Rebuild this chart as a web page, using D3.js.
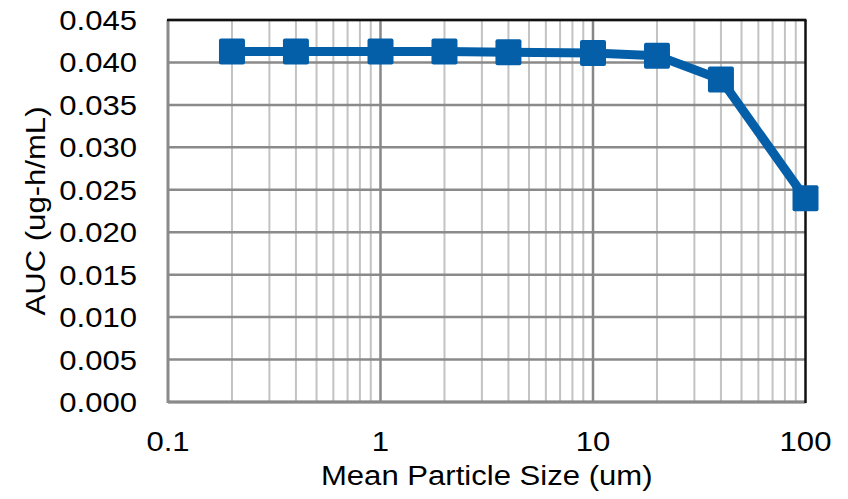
<!DOCTYPE html>
<html><head><meta charset="utf-8">
<script src="https://cdn.jsdelivr.net/npm/d3@7"></script>
<style>body{margin:0;background:#fff}svg text{font-family:"Liberation Sans",Arial,sans-serif;fill:#000}</style>
</head><body>
<svg id="c" width="848" height="499"></svg>
<script>
const sizes = [0.2, 0.4, 1, 2, 4, 10, 20, 40, 100];
const auc = [0.0413, 0.0413, 0.0413, 0.0413, 0.0412, 0.0411, 0.0408, 0.0380, 0.0240];
const yTicks = [0, 0.005, 0.010, 0.015, 0.020, 0.025, 0.030, 0.035, 0.040, 0.045];
const xMajor = [0.1, 1, 10, 100];
const xMinor = [0.2,0.3,0.4,0.5,0.6,0.7,0.8,0.9,2,3,4,5,6,7,8,9,20,30,40,50,60,70,80,90];
const xLabel = "Mean Particle Size (um)";
const yLabel = "AUC (ug-h/mL)";

const svg = d3.select("#c");
const L=168, R=805.5, T=20, B=402;
const x = d3.scaleLog().domain([0.1,100]).range([L,R]);
const y = d3.scaleLinear().domain([0,0.045]).range([B,T]);
const FS = 28, SX = 1.11;

// minor vertical grid
svg.append("g").selectAll("line").data(xMinor).join("line")
  .attr("x1",d=>x(d)).attr("x2",d=>x(d)).attr("y1",T).attr("y2",B)
  .attr("stroke","#c3c3c3").attr("stroke-width",2);
// horizontal grid
svg.append("g").selectAll("line").data(yTicks).join("line")
  .attr("x1",L).attr("x2",R).attr("y1",d=>y(d)).attr("y2",d=>y(d))
  .attr("stroke","#8a8a8a").attr("stroke-width",2.5);
// major vertical grid
svg.append("g").selectAll("line").data(xMajor.slice(1,3)).join("line")
  .attr("x1",d=>x(d)).attr("x2",d=>x(d)).attr("y1",T).attr("y2",B)
  .attr("stroke","#878787").attr("stroke-width",2.5);
// axes lines (left/bottom gray)
svg.append("line").attr("x1",L).attr("x2",L).attr("y1",T).attr("y2",B+1).attr("stroke","#8a8a8a").attr("stroke-width",3);
svg.append("line").attr("x1",L).attr("x2",R).attr("y1",B).attr("y2",B).attr("stroke","#8a8a8a").attr("stroke-width",3);
// top/right black
svg.append("line").attr("x1",L-1).attr("x2",R+1).attr("y1",T).attr("y2",T).attr("stroke","#111").attr("stroke-width",2.5);
svg.append("line").attr("x1",R).attr("x2",R).attr("y1",T).attr("y2",B+1).attr("stroke","#111").attr("stroke-width",2.5);

// y tick labels
svg.append("g").selectAll("text").data(yTicks).join("text")
  .attr("transform",d=>`translate(137,${y(d)+10}) scale(${SX},1)`)
  .attr("text-anchor","end").attr("font-size",FS)
  .text(d=>d3.format(".3f")(d));
// x tick labels
svg.append("g").selectAll("text").data(xMajor).join("text")
  .attr("transform",d=>`translate(${x(d)},451) scale(${SX},1)`)
  .attr("text-anchor","middle").attr("font-size",FS)
  .text(d=>String(d));
// axis titles
svg.append("text").attr("transform",`translate(${(L+R)/2},485) scale(${SX},1)`)
  .attr("text-anchor","middle").attr("font-size",FS).text(xLabel);
svg.append("text").attr("transform",`translate(45,${(T+B)/2}) rotate(-90) scale(${SX},1)`)
  .attr("text-anchor","middle").attr("font-size",FS).text(yLabel);

// series
const data = sizes.map((s,i)=>({s, v:auc[i]}));
const color = "#045FA8";
svg.append("path").datum(data)
  .attr("d", d3.line().x(d=>x(d.s)).y(d=>y(d.v)))
  .attr("fill","none").attr("stroke",color).attr("stroke-width",9).attr("stroke-linejoin","round");
const M = 26;
svg.append("g").selectAll("rect").data(data).join("rect")
  .attr("x",d=>x(d.s)-M/2).attr("y",d=>y(d.v)-M/2).attr("width",M).attr("height",M)
  .attr("rx",2).attr("fill",color);
</script>
</body></html>
